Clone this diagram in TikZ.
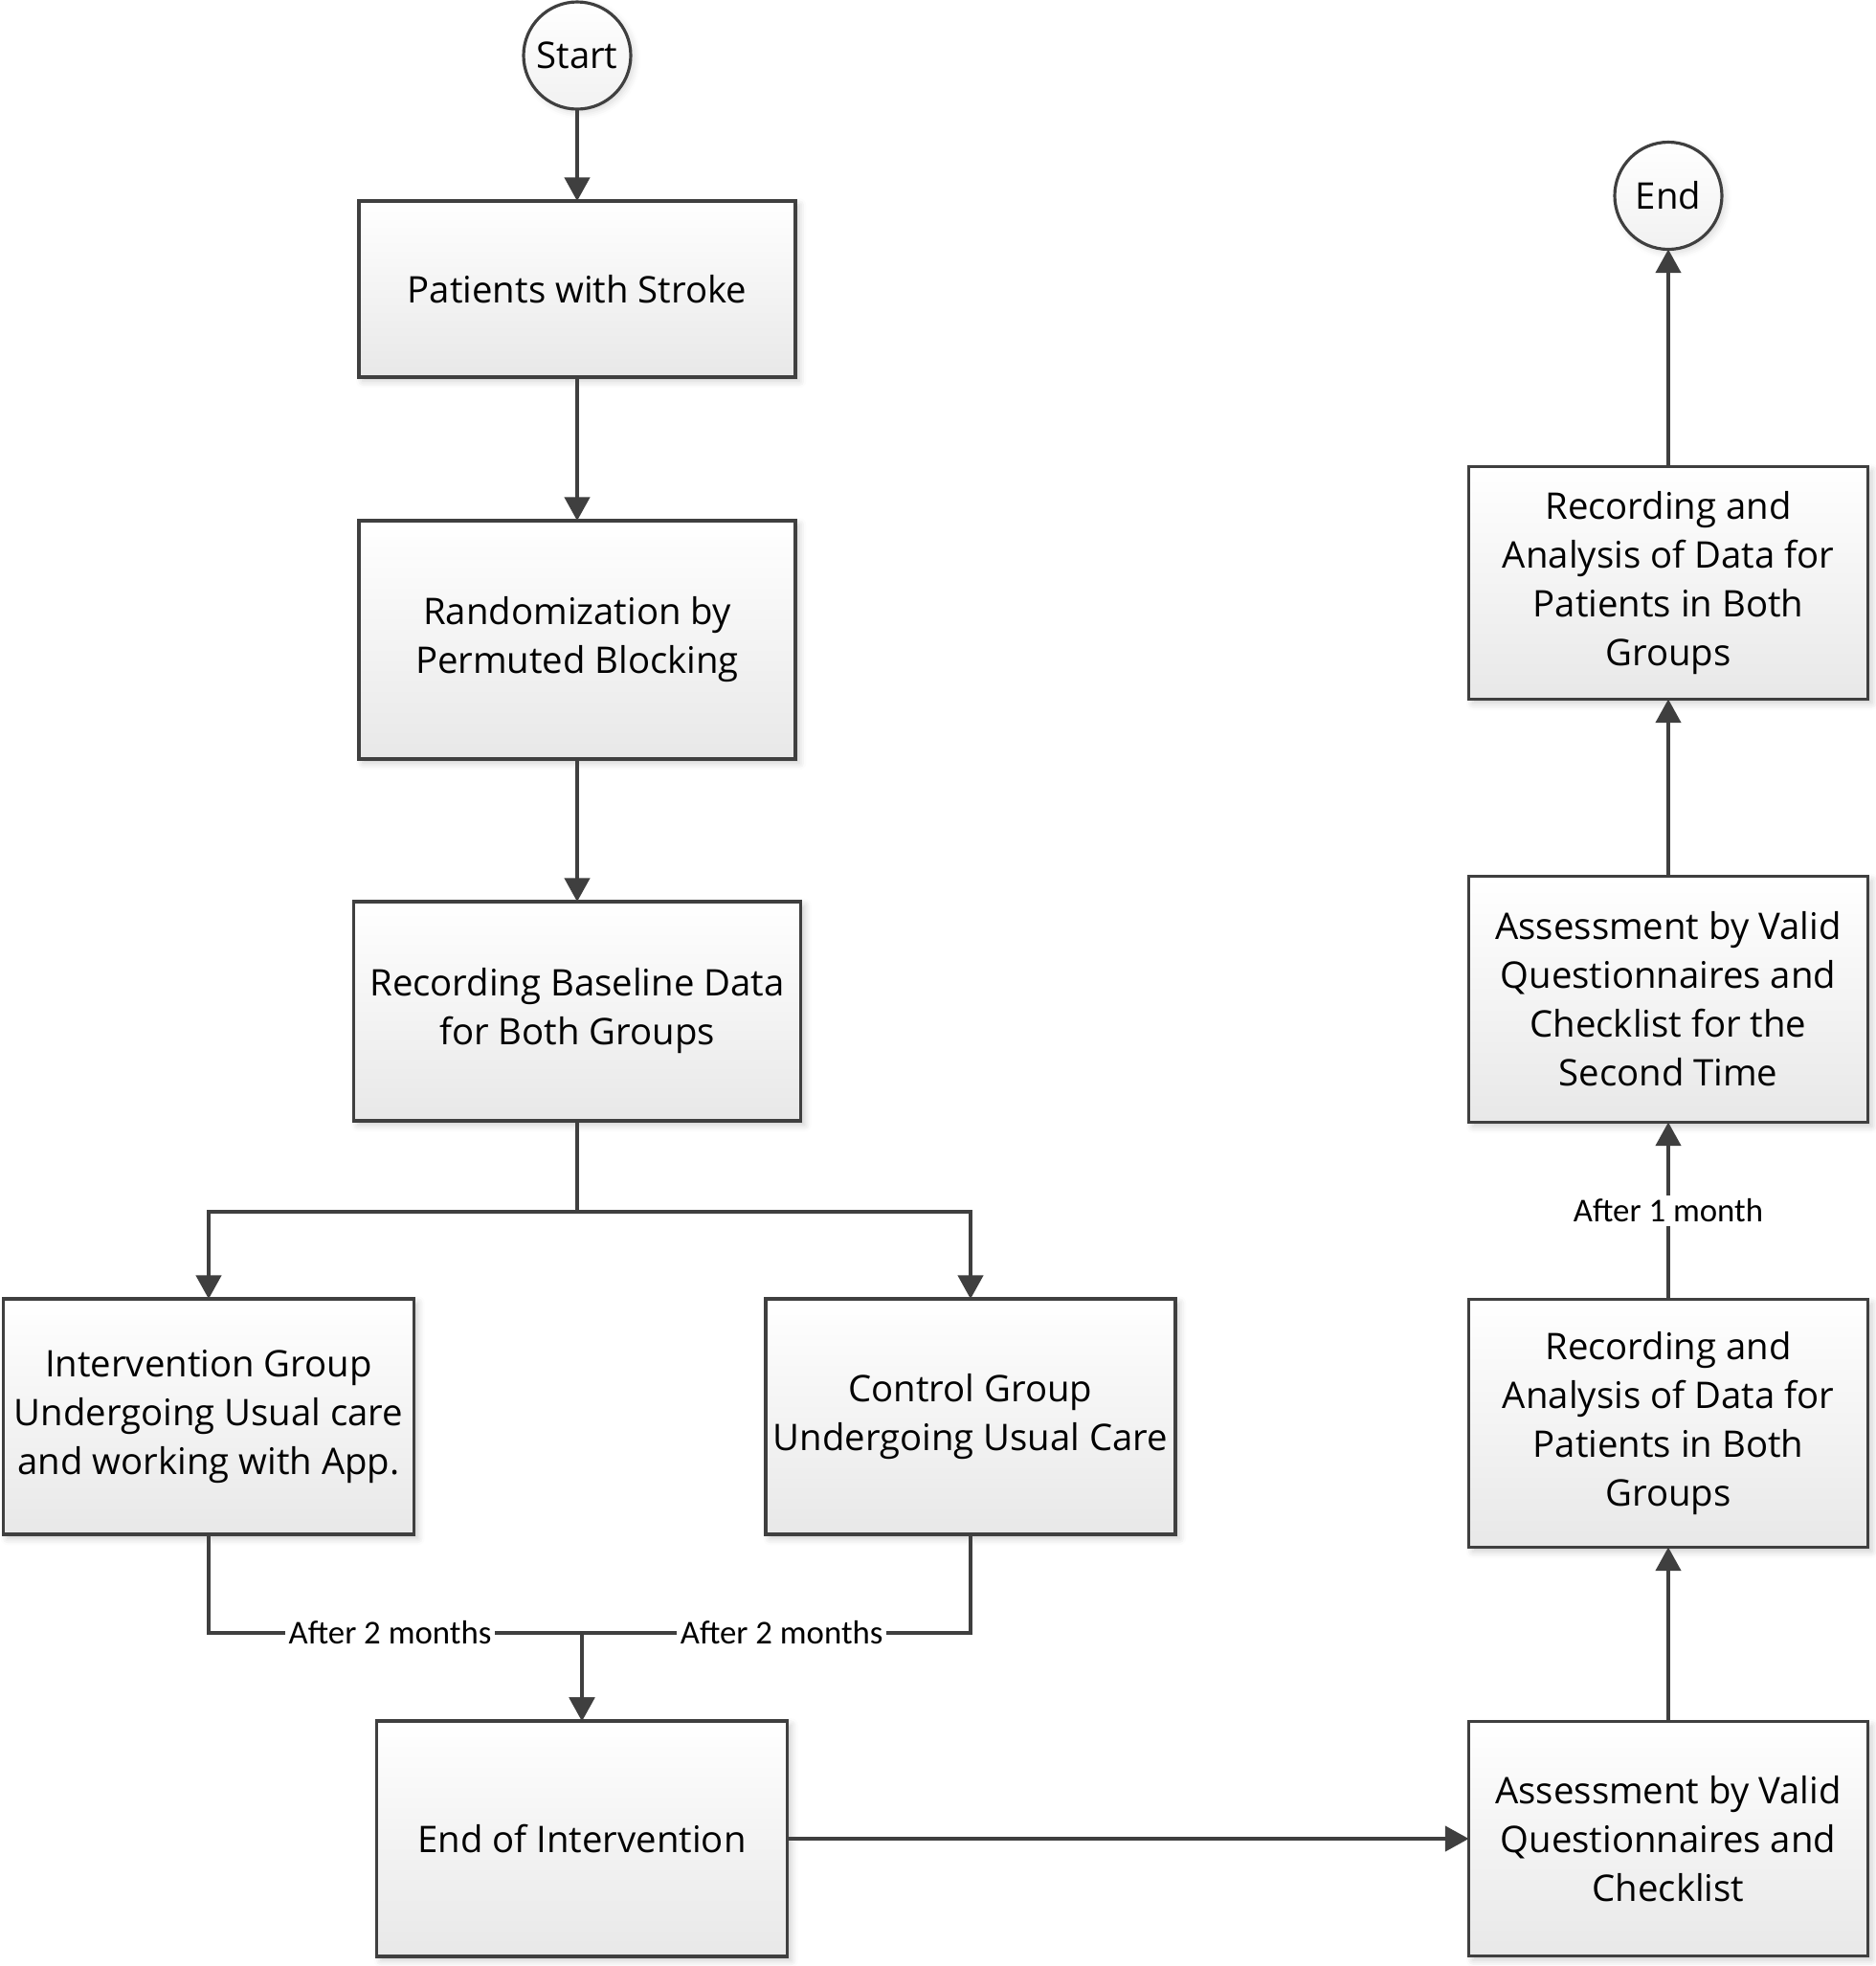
\documentclass[tikz,border=0pt]{standalone}
\usepackage{xcolor}
\usepackage{fontspec}
\setmainfont{Open Sans}
\newfontfamily\lblfamily{Carlito}
\usepackage{tikz}
\usetikzlibrary{arrows.meta, positioning, shadows.blur}
\definecolor{fcLine}{HTML}{3F3F3F}
\definecolor{fcShade}{HTML}{E8E8E8}
\newcommand{\boxfont}{\fontsize{10.9pt}{14.5pt}\selectfont}
\newcommand{\lblfont}{\lblfamily\fontsize{9.9pt}{11pt}\selectfont}

\begin{document}
\begin{tikzpicture}[
  box/.style={draw=fcLine, line width=0.9pt, top color=white, bottom color=fcShade,
              align=center, font=\boxfont, inner sep=2pt, outer sep=0pt,
              blur shadow={shadow xshift=1.2pt, shadow yshift=-1.2pt,
                           shadow blur radius=2pt, shadow opacity=20}},
  term/.style={circle, draw=fcLine, line width=0.9pt, top color=white, bottom color=fcShade!60,
               font=\boxfont, minimum size=1.12cm, inner sep=0pt, outer sep=0pt,
               blur shadow={shadow xshift=1pt, shadow yshift=-1pt,
                            shadow blur radius=2pt, shadow opacity=15}},
  arr/.style={-{Triangle[length=7pt, width=7.5pt]}, line width=0.9pt, draw=fcLine},
  lbl/.style={fill=white, font=\lblfont, inner sep=1pt}
]
  \useasboundingbox (0,0) rectangle (19.6,-20.54);

  % left column
  \node[term] (start) at (6.03,-0.58) {Start};
  \node[box, minimum width=4.56cm, minimum height=1.84cm, below=0.96cm of start] (pat) {Patients with Stroke};
  \node[box, minimum width=4.56cm, minimum height=2.49cm, below=1.5cm of pat] (rand) {Randomization by\\Permuted Blocking};
  \node[box, minimum width=4.67cm, minimum height=2.29cm, below=1.49cm of rand] (base) {Recording Baseline Data\\for Both Groups};
  \node[box, minimum width=4.29cm, minimum height=2.46cm, below=1.86cm of base, xshift=-3.85cm] (intv) {Intervention Group\\Undergoing Usual care\\and working with App.};
  \node[box, minimum width=4.28cm, minimum height=2.46cm, below=1.86cm of base, xshift=4.11cm] (ctrl) {Control Group\\Undergoing Usual Care};
  \node[box, minimum width=4.29cm, minimum height=2.46cm, below=6.27cm of base, xshift=0.05cm] (endi) {End of Intervention};

  % right column
  \node[box, minimum width=4.17cm, minimum height=2.45cm, right=7.12cm of endi] (asm) {Assessment by Valid\\Questionnaires and\\Checklist};
  \node[box, minimum width=4.17cm, minimum height=2.59cm, above=1.82cm of asm] (rec) {Recording and\\Analysis of Data for\\Patients in Both\\Groups};
  \node[box, minimum width=4.17cm, minimum height=2.57cm, above=1.85cm of rec] (asmb) {Assessment by Valid\\Questionnaires and\\Checklist for the\\Second Time};
  \node[box, minimum width=4.17cm, minimum height=2.43cm, above=1.85cm of asmb] (recb) {Recording and\\Analysis of Data for\\Patients in Both\\Groups};
  \node[term, above=2.27cm of recb] (finish) {End};

  \draw[arr] (start) -- (pat);
  \draw[arr] (pat) -- (rand);
  \draw[arr] (rand) -- (base);
  \draw[arr] (base.south) -- ++(0,-0.95) -| (intv.north);
  \draw[arr] (base.south) -- ++(0,-0.95) -| (ctrl.north);
  \draw[arr] (intv.south) -- ++(0,-1.03) -| node[lbl, pos=0.243] {After 2 months} (endi.north);
  \draw[arr] (ctrl.south) -- ++(0,-1.03) -| node[lbl, pos=0.243] {After 2 months} (endi.north);
  \draw[arr] (endi) -- (asm);
  \draw[arr] (asm) -- (rec);
  \draw[arr] (rec) -- node[lbl] {After 1 month} (asmb);
  \draw[arr] (asmb) -- (recb);
  \draw[arr] (recb) -- (finish);
\end{tikzpicture}
\end{document}
